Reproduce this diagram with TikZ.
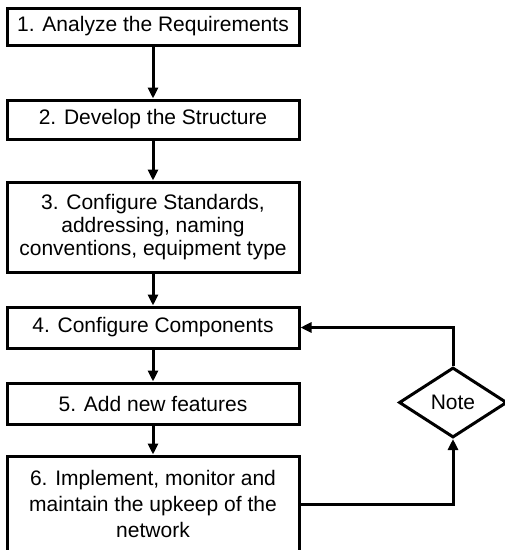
\documentclass[tikz,border=0pt]{standalone}
\usepackage{fontspec}
\setmainfont{Liberation Sans}
\usepackage{tikz}
\usetikzlibrary{arrows.meta}
\usetikzlibrary{shapes.geometric}

\begin{document}
\begin{tikzpicture}[x = 1pt, y = -1pt, line width = 3pt,
    stepbox/.style = {draw, rectangle, minimum width = 292pt, inner sep = 0pt, align = center, font = \fontsize{21}{23}\selectfont},
    arr/.style = {-{Triangle[width = 10pt, length = 11pt]}}]
            \useasboundingbox (0, 0) rectangle (505, 550);
            \node [stepbox, minimum height = 37pt] (analyze) at (153, 26.5) {1. Analyze the Requirements};
            \node [stepbox, minimum height = 39pt] (develop) at (153, 119.5) {2. Develop the Structure};
            \node [stepbox, minimum height = 90pt] (standards) at (153, 227) {3. Configure Standards,\\ addressing, naming\\ conventions, equipment type};
            \node [stepbox, minimum height = 41pt] (components) at (153, 327.5) {4. Configure Components};
            \node [stepbox, minimum height = 41pt] (features) at (153, 403.5) {5. Add new features};
            \node [stepbox, minimum height = 96pt, font = \fontsize{21}{26}\selectfont] (implement) at (153, 504) {6. Implement, monitor and\\ maintain the upkeep of the\\ network};
            \node [draw, diamond, minimum width = 108pt, minimum height = 70pt, inner sep = 0pt, font = \fontsize{21}{23}\selectfont] (note) at (453, 402.5) {Note};
            \draw [arr] (analyze) -- (develop);
            \draw [arr] (develop) -- (standards);
            \draw [arr] (standards) -- (components);
            \draw [arr] (components) -- (features);
            \draw [arr] (features) -- (implement);
            \draw [arr] (implement.east) -| (note.south);
            \draw [arr] (note.north) |- (components.east);
        \end{tikzpicture}
\end{document}
